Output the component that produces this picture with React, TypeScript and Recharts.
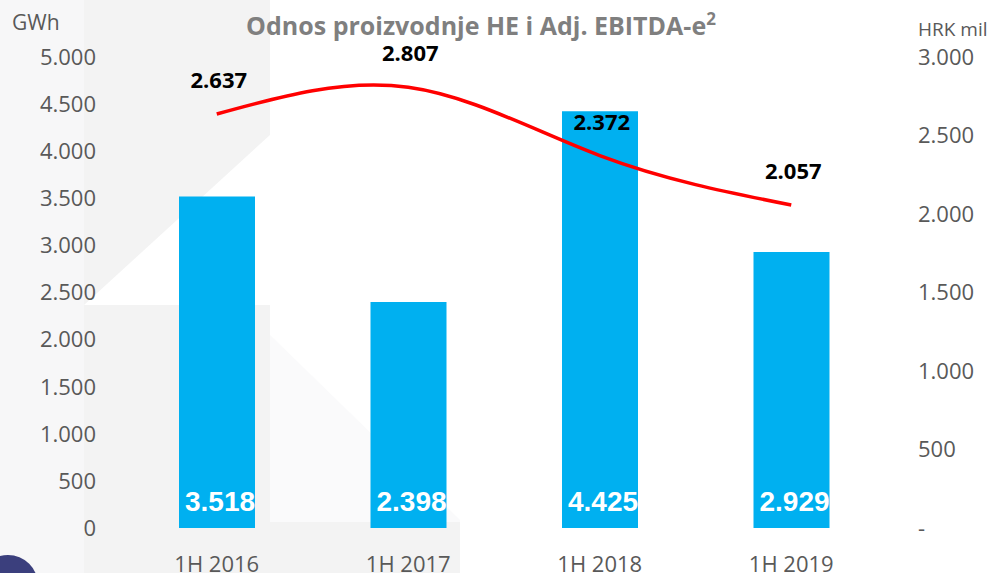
import React from "react";
import {
  ComposedChart,
  Bar,
  Line,
  XAxis,
  YAxis,
  LabelList,
} from "recharts";

const periods = ["1H 2016", "1H 2017", "1H 2018", "1H 2019"];
const productionGwh = [3518, 2398, 4425, 2929];
const adjEbitdaHrk = [2637, 2807, 2372, 2057];
const leftTicks = [0, 500, 1000, 1500, 2000, 2500, 3000, 3500, 4000, 4500, 5000];
const rightTicks = [0, 500, 1000, 1500, 2000, 2500, 3000];

const data = periods.map((p, i) => ({
  period: p,
  gwh: productionGwh[i],
  ebitda: adjEbitdaHrk[i],
}));

const fmt = (v: number) => String(v).replace(/\B(?=(\d{3})+(?!\d))/g, ".");

const TICK_FONT = "'Open Sans', sans-serif";
const TICK_COLOR = "#595959";

function BarValue(props: any) {
  const { x, y, width, height, value } = props;
  return (
    <text
      x={x + width / 2 + 3}
      y={y + height - 17}
      textAnchor="middle"
      fill="#fff"
      fontFamily="'Liberation Sans', Arial, sans-serif"
      fontWeight="bold"
      fontSize={28}
    >
      {fmt(value)}
    </text>
  );
}

function LineValue(props: any) {
  const { x, y, value } = props;
  return (
    <text
      x={x + 2}
      y={y - 26}
      textAnchor="middle"
      fill="#000"
      fontFamily={TICK_FONT}
      fontWeight="bold"
      fontSize={22}
    >
      {fmt(value)}
    </text>
  );
}

function Backdrop() {
  // faint slide decoration behind the chart
  return (
    <svg width={992} height={573} style={{ position: "absolute", left: 0, top: 0 }}>
      <rect x={0} y={0} width={992} height={573} fill="#ffffff" />
      <rect x={0} y={0} width={84} height={573} fill="#f7f7f8" />
      <polygon points="84,0 270,0 270,135 84,305" fill="#f3f3f3" />
      <polygon points="84,305 270,305 270,573 84,573" fill="#f3f3f3" />
      <polygon points="270,335 460,520 460,573 270,573" fill="#fafafb" />
      <rect x={270} y={522} width={190} height={51} fill="#f3f3f3" />
      <circle cx={8} cy={585} r={30} fill="#3b3f7d" />
    </svg>
  );
}

export default function App() {
  return (
    <div style={{ position: "absolute", left: 0, top: 0, width: 992, height: 573, overflow: "hidden" }}>
      <Backdrop />
      <svg width={992} height={573} style={{ position: "absolute", left: 0, top: 0 }}>
        <text x={481} y={35} textAnchor="middle" fill="#7f7f7f" fontFamily={TICK_FONT} fontWeight="bold" fontSize={25}>
          Odnos proizvodnje HE i Adj. EBITDA-e
          <tspan dy={-10} fontSize={17}>2</tspan>
        </text>
        <text x={12} y={30} fill={TICK_COLOR} fontFamily={TICK_FONT} fontSize={21}>
          GWh
        </text>
        <text x={918} y={36} fill={TICK_COLOR} fontFamily={TICK_FONT} fontSize={19}>
          HRK mil
        </text>
      </svg>
      <div style={{ position: "absolute", left: 0, top: 0 }}>
        <ComposedChart
          width={992}
          height={573}
          data={data}
          margin={{ top: 57, right: 0, bottom: 0, left: 0 }}
        >
          <XAxis
            dataKey="period"
            axisLine={false}
            tickLine={false}
            height={45}
            tickMargin={22}
            tick={{ fill: TICK_COLOR, fontFamily: TICK_FONT, fontSize: 22 }}
          />
          <YAxis
            yAxisId="left"
            domain={[0, 5000]}
            ticks={leftTicks}
            width={121}
            axisLine={false}
            tickLine={false}
            tickSize={0}
            tickMargin={25}
            tickFormatter={fmt}
            tick={{ fill: TICK_COLOR, fontFamily: TICK_FONT, fontSize: 22 }}
          />
          <YAxis
            yAxisId="right"
            orientation="right"
            domain={[0, 3000]}
            ticks={rightTicks}
            width={105}
            axisLine={false}
            tickLine={false}
            tickSize={0}
            tickMargin={31}
            tickFormatter={(v: number) => (v === 0 ? "-" : fmt(v))}
            tick={{ fill: TICK_COLOR, fontFamily: TICK_FONT, fontSize: 22, textAnchor: "start" }}
          />
          <Bar yAxisId="left" dataKey="gwh" fill="#00b0f0" barSize={76} isAnimationActive={false}>
            <LabelList dataKey="gwh" content={BarValue} />
          </Bar>
          <Line
            yAxisId="right"
            dataKey="ebitda"
            type="natural"
            stroke="#ff0000"
            strokeWidth={3.5}
            dot={false}
            activeDot={false}
            isAnimationActive={false}
          >
            <LabelList dataKey="ebitda" content={LineValue} />
          </Line>
        </ComposedChart>
      </div>
    </div>
  );
}
